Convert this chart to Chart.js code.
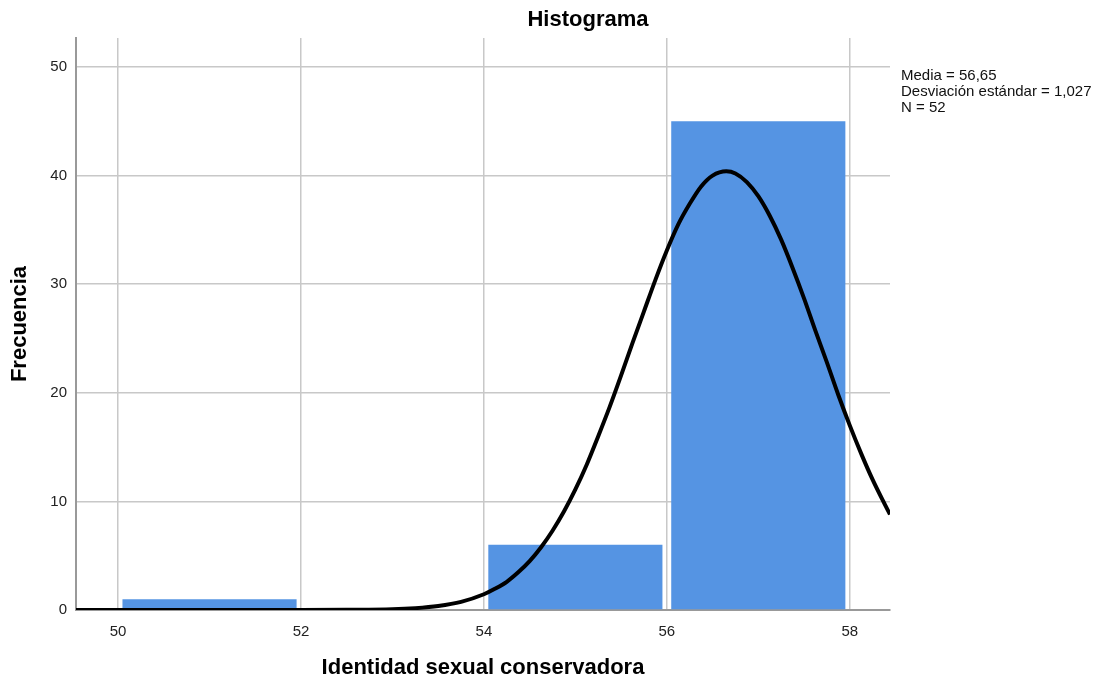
<!DOCTYPE html>
<html>
<head>
<meta charset="utf-8">
<script src="https://cdn.jsdelivr.net/npm/chart.js@4"></script>
<style>
  html, body { margin: 0; padding: 0; background: #fff; }
  #wrap { width: 1107px; height: 682px; }
</style>
</head>
<body>
<div id="wrap"><canvas id="myChart" width="1107" height="682"></canvas></div>
<script>
// histogram bins (midpoints) and counts
var binMids = [51, 53, 55, 57];
var counts = [1, 0, 6, 45];

// normal curve
var curveX = [49.54, 50, 51, 52, 52.5, 53, 53.25, 53.5, 53.75, 54, 54.125, 54.25, 54.375, 54.5, 54.625, 54.75, 54.875,
    55, 55.125, 55.25, 55.375, 55.5, 55.625, 55.75, 55.875, 56, 56.125, 56.25, 56.375, 56.5, 56.65,
    56.75, 56.875, 57, 57.125, 57.25, 57.375, 57.5, 57.625, 57.75, 57.875, 58, 58.125, 58.25, 58.375, 58.44];
var curveY = [0, 0, 0, 0, 0.02, 0.07, 0.17, 0.37, 0.75, 1.45, 1.97, 2.6, 3.47, 4.5, 5.78, 7.3, 9.07,
    11.1, 13.4, 16.0, 18.7, 21.6, 24.6, 27.5, 30.4, 33.1, 35.5, 37.4, 39.0, 40.0, 40.4,
    40.2, 39.4, 38.1, 36.3, 34.1, 31.5, 28.7, 25.7, 22.8, 19.8, 17.0, 14.4, 12.0, 9.86, 8.8];

var xTicks = [50, 52, 54, 56, 58];
var yTicks = [0, 10, 20, 30, 40, 50];

var titleText = 'Histograma';
var xTitle = 'Identidad sexual conservadora';
var yTitle = 'Frecuencia';
var statsLines = ['Media = 56,65', 'Desviación estándar = 1,027', 'N = 52'];

var FONT = '"Liberation Sans", Arial, sans-serif';
var gridColor = '#c8c8c8';

var barData = binMids.map(function (m, i) { return { x: m, y: counts[i] }; });
var lineData = curveX.map(function (x, i) { return { x: x, y: curveY[i] }; });

// title and stats box
var textPlugin = {
    id: 'textPlugin',
    afterDraw: function (chart) {
        var c = chart.ctx;
        var a = chart.chartArea;
        c.save();
        c.fillStyle = '#000';
        c.font = 'bold 22px ' + FONT;
        c.textAlign = 'center';
        c.textBaseline = 'middle';
        c.fillText(titleText, a.left + 512, 20);
        c.font = '15px ' + FONT;
        c.textAlign = 'left';
        c.fillStyle = '#111';
        statsLines.forEach(function (s, i) {
            c.fillText(s, a.right + 11, 76 + i * 16);
        });
        c.restore();
    }
};

var ctx = document.getElementById('myChart');
var myChart = new Chart(ctx, {
    data: {
        datasets: [{
            type: 'line',
            data: lineData,
            borderColor: '#000',
            borderWidth: 4,
            pointRadius: 0,
            fill: false,
            cubicInterpolationMode: 'monotone',
            order: 0
        }, {
            type: 'bar',
            data: barData,
            backgroundColor: '#5594e3',
            borderWidth: 0,
            categoryPercentage: 1,
            barPercentage: 0.952,
            order: 1
        }]
    },
    options: {
        responsive: false,
        animation: false,
        layout: { padding: { top: 38, right: 217, left: 0, bottom: 0 } },
        plugins: {
            legend: { display: false },
            tooltip: { enabled: false },
            title: { display: false }
        },
        scales: {
            x: {
                type: 'linear',
                offset: false,
                min: 49.54,
                max: 58.44,
                afterBuildTicks: function (scale) {
                    scale.ticks = xTicks.map(function (v) { return { value: v }; });
                },
                afterFit: function (scale) { scale.height = 72; },
                grid: { color: gridColor, lineWidth: 1.5, drawTicks: false, offset: false },
                border: { color: '#999', width: 2 },
                ticks: {
                    padding: 13,
                    color: '#222',
                    font: { family: FONT, size: 15 }
                },
                title: {
                    display: true,
                    text: xTitle,
                    color: '#000',
                    padding: { top: 0, bottom: 1 },
                    font: { family: FONT, size: 22, weight: 'bold' }
                }
            },
            y: {
                min: 0,
                max: 52.67,
                afterBuildTicks: function (scale) {
                    scale.ticks = yTicks.map(function (v) { return { value: v }; });
                },
                afterFit: function (scale) { scale.width = 76; },
                grid: { color: gridColor, lineWidth: 1.5, drawTicks: false },
                border: { color: '#999', width: 2 },
                ticks: {
                    padding: 9,
                    color: '#222',
                    font: { family: FONT, size: 15 }
                },
                title: {
                    display: true,
                    text: yTitle,
                    color: '#000',
                    padding: { top: 7, bottom: 0 },
                    font: { family: FONT, size: 22, weight: 'bold' }
                }
            }
        }
    },
    plugins: [textPlugin]
});
</script>
</body>
</html>
